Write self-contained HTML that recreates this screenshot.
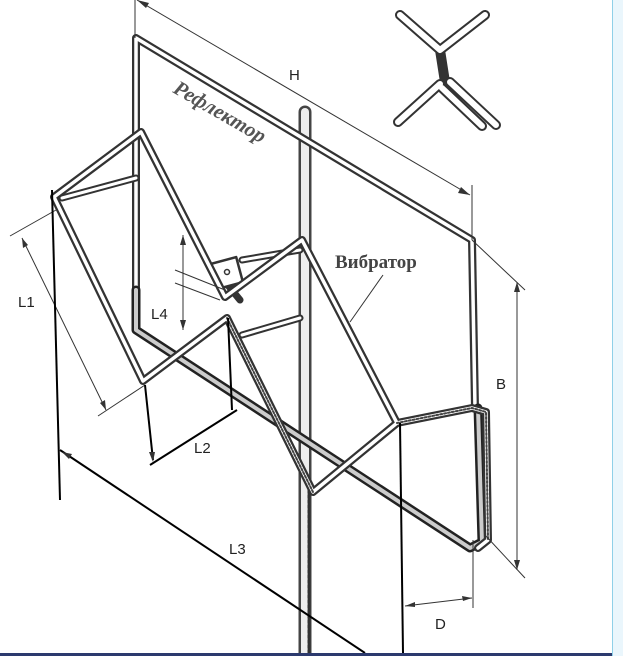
<!DOCTYPE html>
<html><head><meta charset="utf-8"><style>
html,body{margin:0;padding:0;background:#fff;}
body{width:623px;height:656px;overflow:hidden;position:relative;}
.side{position:absolute;left:612px;top:0;width:11px;height:656px;background:#eaf6fc;border-left:1px solid #8fd0e8;box-sizing:border-box;}
.bot{position:absolute;left:0;top:653px;width:612px;height:3px;background:#2c3a6e;}
</style></head><body>
<svg width="612" height="653" viewBox="0 0 612 653" style="position:absolute;left:0;top:0" font-family="Liberation Sans, sans-serif">
<g fill="none" stroke-linejoin="round" stroke-linecap="round">
<!-- mast -->
<path d="M305,112 L305,660" stroke="#444" stroke-width="13"/>
<path d="M305,112 L305,660" stroke="#eee" stroke-width="8"/>
<path d="M309,480 L309,660" stroke="#333" stroke-width="3" stroke-dasharray="3,2"/>
<!-- reflector -->
<path d="M136,290 L136,38 L472,240 L475,408" stroke="#333" stroke-width="8"/>
<path d="M136,290 L136,38 L472,240 L475,408" stroke="#fff" stroke-width="3.5"/>
<path d="M136,290 L136,330 L470,548 L482,542 L478,408" stroke="#222" stroke-width="9"/>
<path d="M136,290 L136,330 L470,548 L482,542 L478,408" stroke="#ccc" stroke-width="4"/>
<!-- rods -->
<path d="M62,198 L136,178 M242,260 L300,250 M242,335 L300,318 M214,268 L240,300" stroke="#333" stroke-width="7"/>
<path d="M62,198 L136,178 M242,260 L300,250 M242,335 L300,318" stroke="#fff" stroke-width="3"/>
<rect x="214" y="260" width="26" height="26" fill="#fff" stroke="#333" stroke-width="2.5" transform="rotate(-15 227 273)"/>
<circle cx="227" cy="272" r="2.5" stroke="#333" stroke-width="1.5"/>
<!-- vibrator -->
<path d="M54,197 L141,132 L225,297 L302,240 L397,423 L472,408 L486,412 L488,540 L478,548 M54,197 L143,381 L227,318 L313,492 L397,423" stroke="#333" stroke-width="8"/>
<path d="M54,197 L141,132 L225,297 L302,240 L397,423 L472,408 L486,412 L488,540 L478,548 M54,197 L143,381 L227,318 L313,492 L397,423" stroke="#fff" stroke-width="3.5"/>
<path d="M397,423 L472,408 L486,412 L488,540 M227,318 L313,492" stroke="#444" stroke-width="2" stroke-dasharray="2,2"/>
<!-- top-right symbol -->
<path d="M400,15 L440,50 L485,15 M398,122 L440,84 M442,88 L482,126 M450,82 L496,125 M440,50 L445,82" stroke="#333" stroke-width="10"/>
<path d="M400,15 L440,50 L485,15 M398,122 L440,84 M442,88 L482,126 M450,82 L496,125" stroke="#fff" stroke-width="6"/>
</g>
<g stroke="#333" stroke-width="1" fill="none">
<line x1="137" y1="0" x2="470" y2="195"/>
<line x1="135" y1="0" x2="135" y2="38"/>
<line x1="472" y1="185" x2="472" y2="240"/>
<line x1="472" y1="240" x2="525" y2="290"/>
<line x1="485" y1="535" x2="525" y2="578"/>
<line x1="517" y1="282" x2="517" y2="570"/>
<line x1="473" y1="540" x2="473" y2="608"/>
<line x1="405" y1="606" x2="472" y2="598"/>
<line x1="10" y1="236" x2="56" y2="210"/>
<line x1="98" y1="416" x2="145" y2="385"/>
<line x1="22" y1="238" x2="106" y2="410"/>
<line x1="183" y1="235" x2="183" y2="330"/>
<line x1="175" y1="270" x2="225" y2="290"/>
<line x1="175" y1="283" x2="220" y2="300"/>
<line x1="383" y1="275" x2="350" y2="322"/>
</g>
<g stroke="#000" stroke-width="2" fill="none">
<line x1="52" y1="190" x2="60" y2="500"/>
<line x1="60" y1="450" x2="365" y2="653"/>
<line x1="145" y1="385" x2="153" y2="460"/>
<line x1="228" y1="318" x2="232" y2="410"/>
<line x1="150" y1="465" x2="237" y2="410"/>
<line x1="400" y1="423" x2="403" y2="653"/>
</g>
<g fill="#333">
<path d="M137,0 l12,3 l-3,5z M470,195 l-12,-2 l3,-6z"/>
<path d="M517,282 l-3,10 l6,0z M517,570 l-3,-10 l6,0z"/>
<path d="M405,606 l10,-4 l0,5z M472,598 l-10,-2 l1,5z"/>
<path d="M22,238 l1,10 l5,-3z M106,410 l-1,-10 l-5,3z"/>
<path d="M183,235 l-3,10 l6,0z M183,330 l-3,-10 l6,0z"/>
<path d="M153,462 l-4,-10 l6,0z M62,452 l10,2 l-3,5z"/>
</g>
<g font-size="15" fill="#222">
<text x="289" y="80">H</text>
<text x="496" y="389">B</text>
<text x="435" y="629">D</text>
<text x="18" y="307">L1</text>
<text x="194" y="453">L2</text>
<text x="229" y="554">L3</text>
<text x="151" y="319">L4</text>
</g>
<text x="172" y="92" font-family="Liberation Serif, serif" font-style="italic" font-weight="bold" font-size="21" fill="#555" transform="rotate(30 172 92)">Рефлектор</text>
<text x="335" y="268" font-family="Liberation Serif, serif" font-weight="bold" font-size="19" fill="#444">Вибратор</text>
</svg>
<div class="side"></div>
<div class="bot"></div>
</body></html>
